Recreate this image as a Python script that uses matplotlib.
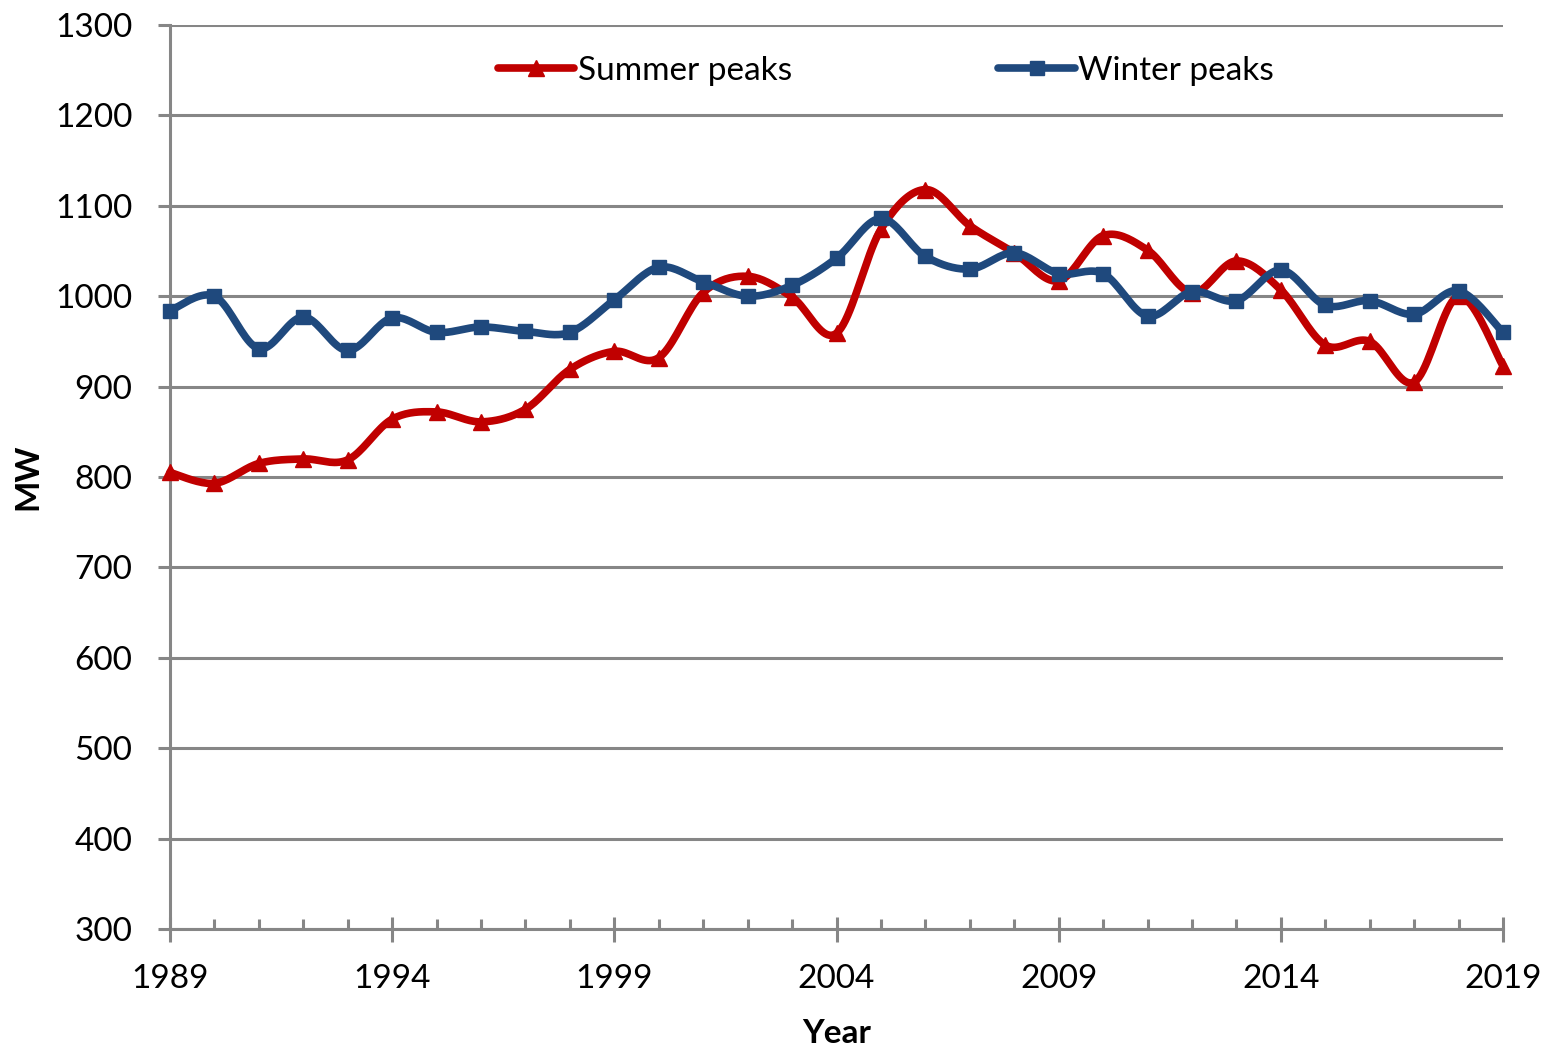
import matplotlib
matplotlib.use("Agg")
import matplotlib.pyplot as plt
from matplotlib.ticker import FixedLocator, MultipleLocator
import numpy as np

years = list(range(1989, 2020))
summer = [805, 793, 815, 820, 819, 864, 872, 861, 875, 919, 939, 932, 1004, 1022, 999,
          959, 1074, 1118, 1078, 1048, 1017, 1067, 1051, 1004, 1039, 1007, 946, 950, 905,
          1000, 923]
winter = [984, 1000, 942, 977, 940, 976, 960, 966, 961, 960, 996, 1032, 1016, 1000, 1012,
          1042, 1086, 1044, 1030, 1048, 1025, 1025, 978, 1005, 995, 1029, 990, 995, 980,
          1006, 960]
year_ticks = [1989, 1994, 1999, 2004, 2009, 2014, 2019]


def smooth(x, y, n=20):
    # Excel-style smoothed line (Catmull-Rom through the points)
    x = np.asarray(x, float)
    y = np.asarray(y, float)
    px = np.concatenate([[x[0]], x, [x[-1]]])
    py = np.concatenate([[y[0]], y, [y[-1]]])
    xs, ys = [], []
    t = np.linspace(0, 1, n, endpoint=False)
    for i in range(1, len(px) - 2):
        p0, p1, p2, p3 = (np.array([px[j], py[j]]) for j in (i - 1, i, i + 1, i + 2))
        c1 = p1 + (p2 - p0) / 6
        c2 = p2 - (p3 - p1) / 6
        pts = (((1 - t) ** 3)[:, None] * p1 + (3 * (1 - t) ** 2 * t)[:, None] * c1
               + (3 * (1 - t) * t ** 2)[:, None] * c2 + (t ** 3)[:, None] * p2)
        xs.extend(pts[:, 0])
        ys.extend(pts[:, 1])
    xs.append(x[-1])
    ys.append(y[-1])
    return xs, ys


plt.rcParams['font.family'] = ['Lato', 'DejaVu Sans']
red = '#c00000'
blue = '#1f497d'
grey = '#868686'
fs = 24

fig = plt.figure(figsize=(15.59, 10.5), dpi=100)
ax = fig.add_axes([170 / 1559, 1 - 929 / 1050, 1333 / 1559, 904 / 1050])

sx, sy = smooth(years, summer)
wx, wy = smooth(years, winter)
ax.plot(sx, sy, color=red, lw=5.5, solid_capstyle='round', zorder=3, clip_on=False)
ax.plot(years, summer, ls='none', marker='^', ms=12, color=red, zorder=4, clip_on=False)
ax.plot(wx, wy, color=blue, lw=5.5, solid_capstyle='round', zorder=3, clip_on=False)
ax.plot(years, winter, ls='none', marker='s', ms=10, color=blue, zorder=4, clip_on=False)

h1, = ax.plot([], [], color=red, lw=5.5, marker='^', ms=12, solid_capstyle='round')
h2, = ax.plot([], [], color=blue, lw=5.5, marker='s', ms=10, solid_capstyle='round')
ax.legend([h1, h2], ['Summer peaks', 'Winter peaks'], loc='center',
          bbox_to_anchor=(0.537, 0.949), ncol=2, frameon=False, fontsize=fs,
          handlelength=2.3, handletextpad=0.1, columnspacing=6.2)

ax.set_xlim(1989, 2019)
ax.set_ylim(300, 1300)
ax.xaxis.set_major_locator(FixedLocator(year_ticks))
ax.xaxis.set_minor_locator(MultipleLocator(1))
ax.yaxis.set_major_locator(MultipleLocator(100))
ax.grid(axis='y', color=grey, lw=2.2)
ax.set_axisbelow(True)

for s in ['top', 'right']:
    ax.spines[s].set_visible(False)
for s in ['left', 'bottom']:
    ax.spines[s].set_color(grey)
    ax.spines[s].set_linewidth(2.2)

ax.tick_params(axis='x', which='major', direction='inout', length=18, width=2.2,
               color=grey, labelsize=fs, pad=16)
ax.tick_params(axis='x', which='minor', direction='in', length=7, width=2.2, color=grey)
ax.tick_params(axis='y', direction='out', length=9, width=2.2, color=grey,
               labelsize=fs, pad=18)

ax.set_xlabel('Year', fontsize=fs, fontweight='bold', labelpad=18)
ax.set_ylabel('MW', fontsize=fs, fontweight='bold')
ax.yaxis.set_label_coords(-0.096, 0.5)

fig.savefig('out.png', dpi=100)
